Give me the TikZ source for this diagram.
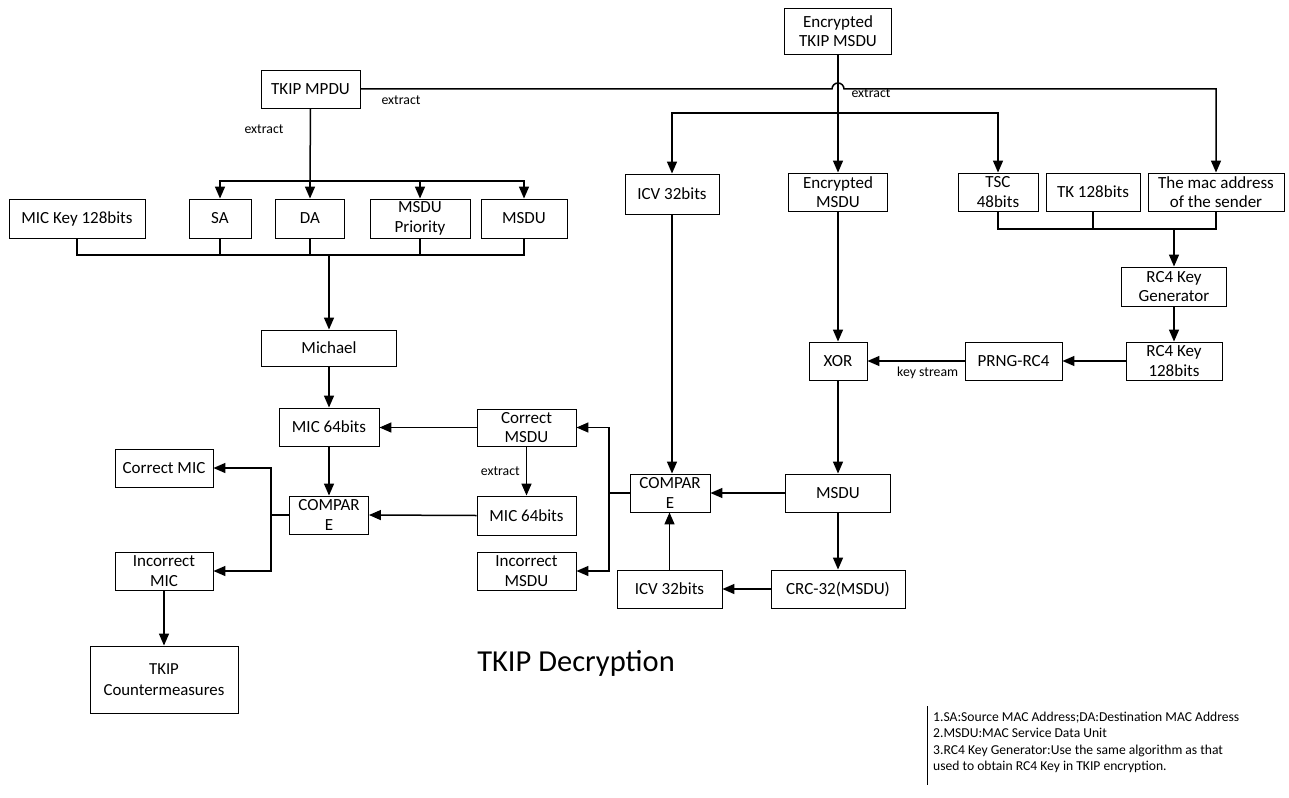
\documentclass[tikz,border=0pt]{standalone}
\usepackage{fontspec}
\setmainfont{Carlito}
\usetikzlibrary{positioning}
\usetikzlibrary{calc}
\usepgflibrary{arrows.meta}

\begin{document}
\begin{tikzpicture}[x=1pt, y=-1pt,
    blk/.style={draw, line width=0.9pt, align=center, inner sep=0pt, font=\fontsize{17}{19.5}\selectfont},
    conn/.style={draw, line width=1.5pt},
    arr/.style={conn, -{Triangle[length=12pt, width=10pt]}},
    lbl/.style={font=\fontsize{13.8}{16}\selectfont, inner sep=0pt}]
    \path[fill=white] (0, 0) rectangle (1289, 797);
    \node[blk, minimum width=107, minimum height=46] (enc) at (838, 31) {Encrypted\\TKIP MSDU};
    \node[blk, minimum width=99, minimum height=38] (mpdu) at (310.5, 89) {TKIP MPDU};
    \node[blk, minimum width=136, minimum height=39] (mickey) at (77, 218.5) {MIC Key 128bits};
    \node[blk, minimum width=62, minimum height=39] (sa) at (220, 218.5) {SA};
    \node[blk, minimum width=69, minimum height=39] (da) at (310, 218.5) {DA};
    \node[blk, minimum width=100, minimum height=39] (prio) at (420, 218.5) {MSDU\\Priority};
    \node[blk, minimum width=86, minimum height=39] (msduL) at (524, 218.5) {MSDU};
    \node[blk, minimum width=94, minimum height=40] (icvT) at (672, 194) {ICV 32bits};
    \node[blk, minimum width=99, minimum height=38] (encmsdu) at (838, 192) {Encrypted\\MSDU};
    \node[blk, minimum width=80, minimum height=38] (tsc) at (998, 192) {TSC\\48bits};
    \node[blk, minimum width=94, minimum height=38] (tk) at (1093, 192) {TK 128bits};
    \node[blk, minimum width=136, minimum height=38] (mac) at (1216, 192) {The mac address\\of the sender};
    \node[blk, minimum width=105, minimum height=39] (keygen) at (1174, 286.5) {RC4 Key\\Generator};
    \node[blk, minimum width=96, minimum height=38] (rc4key) at (1174, 361) {RC4 Key\\128bits};
    \node[blk, minimum width=97, minimum height=38] (prng) at (1013.5, 361) {PRNG-RC4};
    \node[blk, minimum width=58, minimum height=38] (xor) at (838, 361) {XOR};
    \node[blk, minimum width=105, minimum height=38] (msduR) at (838, 493) {MSDU};
    \node[blk, minimum width=134, minimum height=38] (crc) at (838, 589) {CRC-32(MSDU)};
    \node[blk, minimum width=105, minimum height=38] (icvB) at (669.5, 589) {ICV 32bits};
    \node[blk, minimum width=80, minimum height=38] (cmpR) at (670, 493) {COMPAR\\E};
    \node[blk, minimum width=99, minimum height=37] (okmsdu) at (526.5, 427.5) {Correct\\MSDU};
    \node[blk, minimum width=99, minimum height=39] (micR) at (526.5, 515.5) {MIC 64bits};
    \node[blk, minimum width=99, minimum height=38] (badmsdu) at (526.5, 571) {Incorrect\\MSDU};
    \node[blk, minimum width=100, minimum height=38] (micL) at (329, 427) {MIC 64bits};
    \node[blk, minimum width=135, minimum height=36] (michael) at (329, 348) {Michael};
    \node[blk, minimum width=79, minimum height=38] (cmpL) at (329, 515) {COMPAR\\E};
    \node[blk, minimum width=98, minimum height=38] (okmic) at (164, 468) {Correct MIC};
    \node[blk, minimum width=98, minimum height=38] (badmic) at (164, 571) {Incorrect\\MIC};
    \node[blk, minimum width=148, minimum height=67, font=\fontsize{16.8}{21}\selectfont] (cm) at (164, 679.5) {TKIP\\Countermeasures};
    \node[font=\fontsize{30.5}{34}\selectfont, inner sep=0pt] (title) at (576, 663) {TKIP Decryption};
    \coordinate (fork) at (838, 113);
    \coordinate (split) at (310, 181);
    \coordinate (join) at (329, 255);
    \coordinate (keyjoin) at (1174, 229);
    \coordinate (selR) at (609, 493);
    \coordinate (selL) at (271, 515);
    \path[arr] (mpdu.east) -- (832, 89) arc[start angle=180, end angle=360, radius=6] -| (mac.north);
    \node[lbl] at (401, 100) {extract};
    \node[lbl] at (871, 93) {extract};
    \path[arr] (enc.south) -- (encmsdu.north);
    \foreach \n in {icvT, tsc} {\path[arr] (fork) -| (\n.north);}
    \path[conn] (mpdu.south) -- (split);
    \node[lbl] at (264, 129) {extract};
    \foreach \n in {sa, da, prio, msduL} {\path[arr] (split) -| (\n.north);}
    \foreach \n in {mickey, sa, da, prio, msduL} {\path[conn] (\n.south) |- (join);}
    \path[arr] (join) -- (michael.north);
    \foreach \n in {tsc, tk, mac} {\path[conn] (\n.south) |- (keyjoin);}
    \path[arr] (keyjoin) -- (keygen.north);
    \path[arr] (keygen.south) -- (rc4key.north);
    \path[arr] (rc4key.west) -- (prng.east);
    \path[arr] (prng.west) -- (xor.east) node[lbl, pos=0.38, below=5pt] {key stream};
    \path[arr] (encmsdu.south) -- (xor.north);
    \path[arr] (xor.south) -- (msduR.north);
    \path[arr] (msduR.south) -- (crc.north);
    \path[arr] (crc.west) -- (icvB.east);
    \path[arr] (icvB.north) -- (icvB.north |- cmpR.south);
    \path[arr] (icvT.south) -- (icvT.south |- cmpR.north);
    \path[arr] (msduR.west) -- (cmpR.east);
    \path[conn] (cmpR.west) -- (selR);
    \foreach \n in {okmsdu, badmsdu} {\path[arr] (selR) |- (\n.east);}
    \path[arr] (okmsdu.west) -- (micL.east |- okmsdu.west);
    \path[arr] (okmsdu.south) -- (micR.north) node[lbl, midway, left=6pt] {extract};
    \path[arr] (michael.south) -- (micL.north);
    \path[arr] (micL.south) -- (cmpL.north);
    \path[arr] (micR.west) -- (cmpL.east);
    \path[conn] (cmpL.west) -- (selL);
    \foreach \n in {okmic, badmic} {\path[arr] (selL) |- (\n.east);}
    \path[arr] (badmic.south) -- (cm.north);
    \path[draw, line width=1pt] (927, 706) -- (927, 785);
    \node[anchor=north west, align=left, inner sep=0pt, font=\fontsize{13.6}{16.3}\selectfont] (notes) at (933, 712) {1.SA:Source MAC Address;DA:Destination MAC Address\\2.MSDU:MAC Service Data Unit\\3.RC4 Key Generator:Use the same algorithm as that\\used to obtain RC4 Key in TKIP encryption.};
\end{tikzpicture}
\end{document}
